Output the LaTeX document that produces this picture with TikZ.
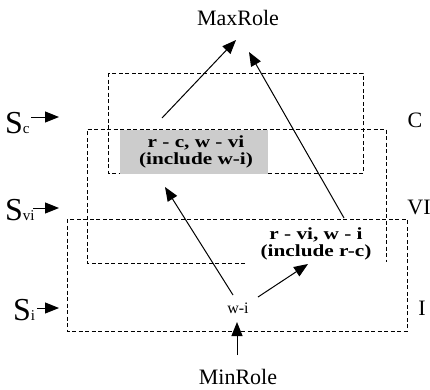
\documentclass[tikz,border=0pt]{standalone}
\usepackage{fontspec}
\setmainfont{Liberation Serif}
\newfontfamily\widebf{Liberation Serif}[FakeStretch=1.25]
\usetikzlibrary{arrows.meta}
\begin{document}
\begin{tikzpicture}[x=1pt,y=-1pt,
  dbox/.style={draw, dash pattern=on 4pt off 2.5pt, line width=1pt},
  arr/.style={-{Triangle[length=14pt,width=11pt]}, line width=1pt},
  big/.style={font=\fontsize{22}{24}\selectfont, inner sep=0pt},
  bold/.style={font=\fontsize{17}{17}\selectfont\widebf\bfseries, align=center, inner sep=0pt},
  slbl/.style={anchor=base west, inner sep=0pt},
]
\useasboundingbox (0,0) rectangle (430,389);
% dashed boxes
\draw[dbox] (67,219) rectangle (407,331);
\draw[dbox] (245,263) -- (87,263) -- (87,129) -- (386,129) -- (386,262);
\draw[dbox] (108,73) rectangle (363,173);
% gray box
\node[fill=gray!40, minimum width=148pt, minimum height=44pt, inner sep=0pt] (g) at (194,152) {};
\node[bold] (t1) at (196,152) {r - c, w - vi\\(include w-i)};
\node[bold] (t2) at (316,244) {r - vi, w - i\\(include r-c)};
\node[font=\fontsize{16}{17}\selectfont, inner sep=0pt] (wi) at (238,308) {w-i};
% labels
\node[big] (max) at (238,18) {MaxRole};
\node[big] (min) at (238,377) {MinRole};
\node[big] (C) at (415,120) {C};
\node[big] (VI) at (419,207) {VI};
\node[big] (I) at (422,308) {I};
\node[slbl] (sc) at (5,133) {\fontsize{32}{32}\selectfont S\fontsize{15}{15}\selectfont c};
\node[slbl] (svi) at (5,220) {\fontsize{32}{32}\selectfont S\fontsize{15}{15}\selectfont vi};
\node[slbl] (si) at (13,320) {\fontsize{32}{32}\selectfont S\fontsize{15}{15}\selectfont i};
% coordinates
\coordinate (a1s) at (162,118); \coordinate (a1e) at (236,40);
\coordinate (a2s) at (344,218); \coordinate (a2e) at (249,52);
\coordinate (a3s) at (233,295); \coordinate (a3e) at (165,187);
\coordinate (a4s) at (258,297); \coordinate (a4e) at (308,264);
\coordinate (a5s) at (237,355); \coordinate (a5e) at (237,322);
\coordinate (scs) at (31,117); \coordinate (sce) at (59,117);
\coordinate (svis) at (33,208); \coordinate (svie) at (59,208);
\coordinate (sis) at (37,308); \coordinate (sie) at (59,308);
% arrows
\draw[arr] (a1s) -- (a1e);
\draw[arr] (a2s) -- (a2e);
\draw[arr] (a3s) -- (a3e);
\draw[arr] (a4s) -- (a4e);
\draw[arr] (a5s) -- (a5e);
\draw[arr] (scs) -- (sce);
\draw[arr] (svis) -- (svie);
\draw[arr] (sis) -- (sie);
\end{tikzpicture}
\end{document}
